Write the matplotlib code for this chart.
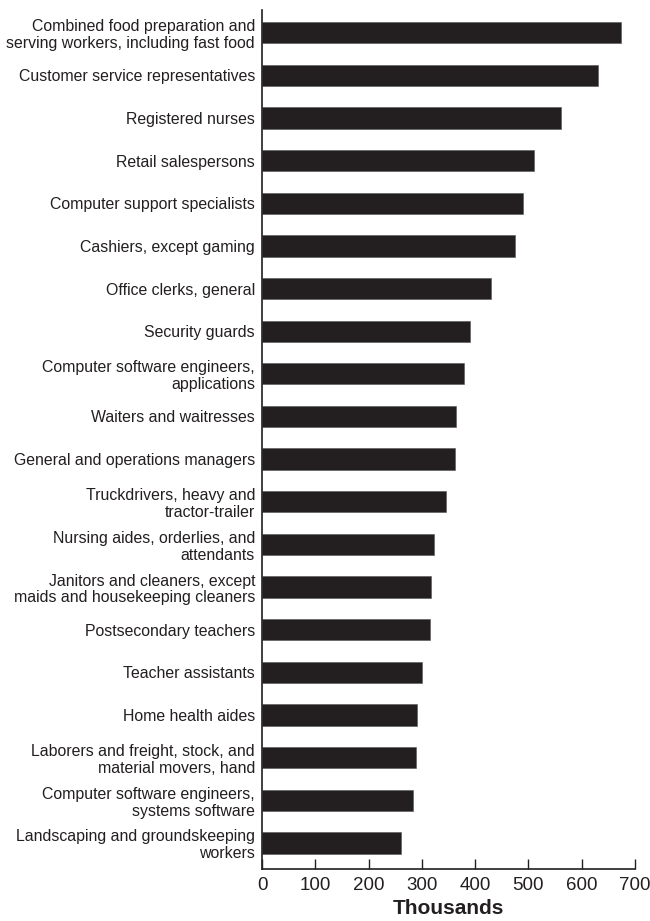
import matplotlib
matplotlib.use("Agg")
import matplotlib.pyplot as plt
import numpy as np

categories = [
    "Combined food preparation and\nserving workers, including fast food",
    "Customer service representatives",
    "Registered nurses",
    "Retail salespersons",
    "Computer support specialists",
    "Cashiers, except gaming",
    "Office clerks, general",
    "Security guards",
    "Computer software engineers,\napplications",
    "Waiters and waitresses",
    "General and operations managers",
    "Truckdrivers, heavy and\ntractor-trailer",
    "Nursing aides, orderlies, and\nattendants",
    "Janitors and cleaners, except\nmaids and housekeeping cleaners",
    "Postsecondary teachers",
    "Teacher assistants",
    "Home health aides",
    "Laborers and freight, stock, and\nmaterial movers, hand",
    "Computer software engineers,\nsystems software",
    "Landscaping and groundskeeping\nworkers",
]
values = [673, 631, 561, 510, 490, 474, 430, 391, 380, 364,
          363, 346, 323, 317, 315, 301, 291, 289, 284, 260]
xticks = [0, 100, 200, 300, 400, 500, 600, 700]
xlabel = "Thousands"

plt.rcParams['font.family'] = ['Liberation Sans', 'DejaVu Sans']
ink = "#231f20"

fig = plt.figure(figsize=(6.5, 9.21), dpi=100)
ax = fig.add_axes([262/650, 52/921, (635-262)/650, (869-10)/921])

y = np.arange(len(categories))
ax.barh(y, values, height=0.5, color=ink, edgecolor="#555555", linewidth=0.4)

ax.set_xlim(0, 700)
ax.set_ylim(len(categories) - 1 + 0.61, -0.53)
ax.set_yticks(y)
ax.set_yticklabels(categories, fontsize=11.4, linespacing=1.15, color=ink)
ax.tick_params(axis='y', length=0, pad=5)
ax.set_xticks(xticks)
ax.set_xticklabels([str(t) for t in xticks], fontsize=13.5, color=ink)
ax.tick_params(axis='x', direction='in', length=7, width=1, pad=6, color=ink)
ax.set_xlabel(xlabel, fontsize=15, fontweight='bold', labelpad=3, color=ink)

for s in ['top', 'right']:
    ax.spines[s].set_visible(False)
for s in ['left', 'bottom']:
    ax.spines[s].set_linewidth(1.2)
    ax.spines[s].set_color(ink)

fig.savefig("out.png", dpi=100)
